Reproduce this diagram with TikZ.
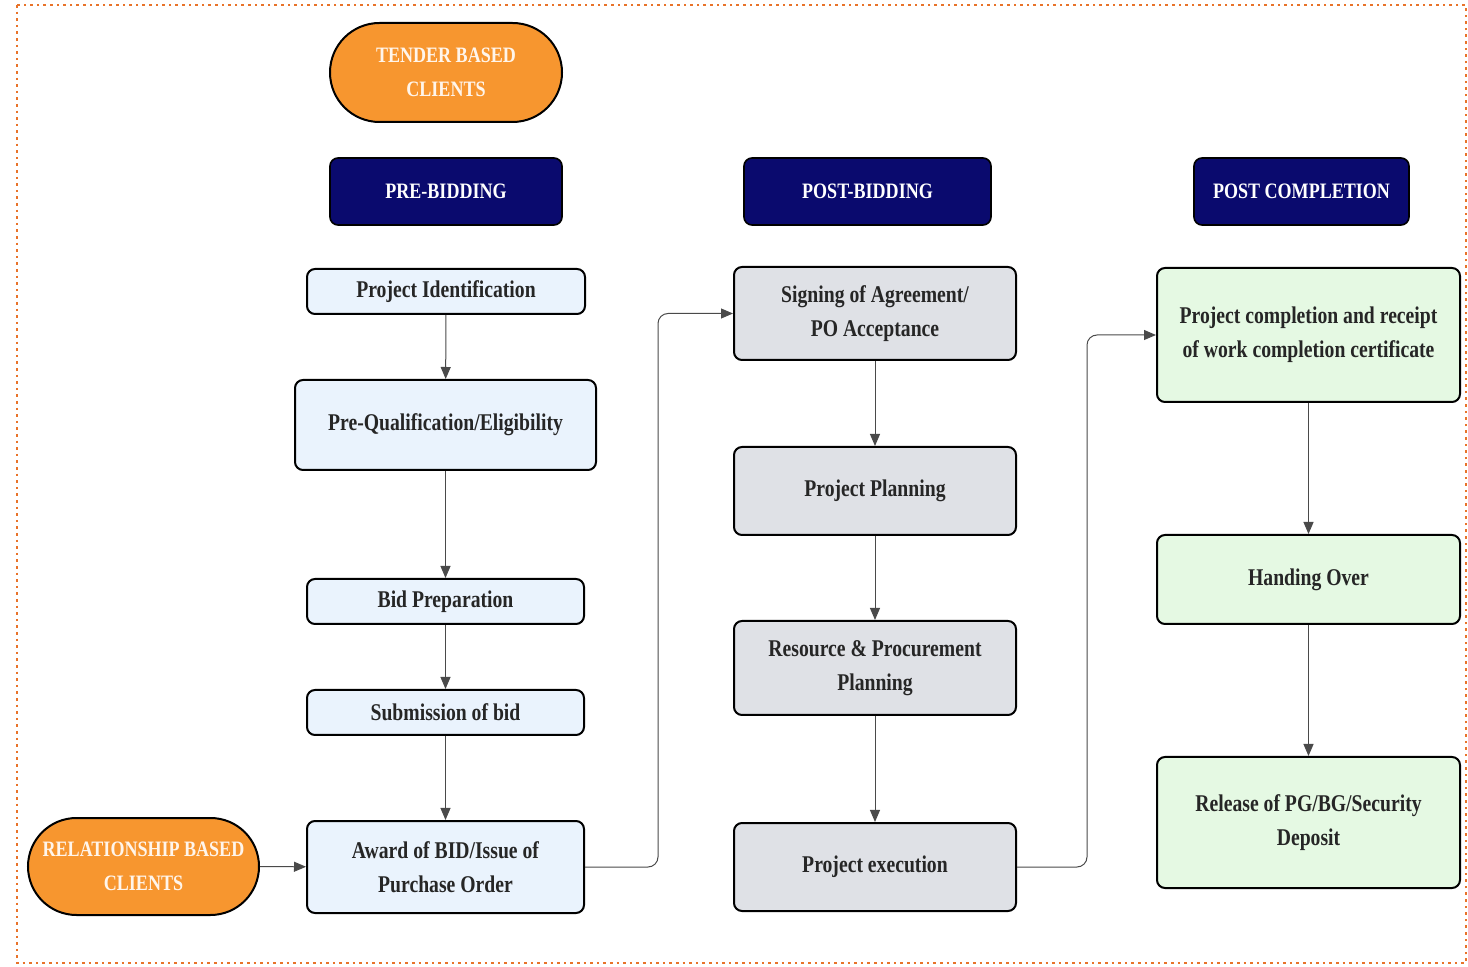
\documentclass[tikz,border=0pt]{standalone}
\usepackage{fontspec}
\setmainfont{Liberation Serif}[FakeStretch=0.82]
\usetikzlibrary{
    arrows.meta,
    positioning,
    shapes.misc
}
\definecolor{client orange}{HTML}{F7962F}
\definecolor{head navy}{HTML}{0A0A6E}
\definecolor{pre blue}{HTML}{EAF3FD}
\definecolor{post grey}{HTML}{DFE1E6}
\definecolor{done green}{HTML}{E5F9E3}
\definecolor{frame orange}{HTML}{E8732A}
\definecolor{link grey}{HTML}{4A4A4A}
\tikzset{
    % Boxes
    box text/.style={font=\bfseries\fontsize{12}{17}\selectfont,align=center,text=black!85},
    stage box/.style={box text,draw=black,line width=1pt,rounded corners=4pt,inner sep=0pt},
    pre box/.style={stage box,fill=pre blue},
    post box/.style={stage box,fill=post grey},
    done box/.style={stage box,fill=done green},
    head box/.style={draw=black,line width=0.8pt,fill=head navy,rounded corners=4pt,
        text=white,font=\bfseries\fontsize{11}{17}\selectfont,align=center,
        minimum height=33.5pt,inner sep=0pt},
    client box/.style={rounded rectangle,draw=black,line width=1pt,fill=client orange,
        text=white!92!orange,font=\bfseries\fontsize{11}{17}\selectfont,align=center,inner sep=0pt},
    %
    % Arrows
    arrow tip/.tip={Triangle[length=6pt,width=5pt]},
    arr/.style={->,>={arrow tip},draw=link grey,line width=0.5pt},
    elbow/.style={arr,rounded corners=5pt},
}

\begin{document}
\begin{tikzpicture}[x=0.5pt,y=-0.5pt]
    \useasboundingbox (0,0) rectangle (1468,967);
    \draw[frame orange,line width=1.3pt,dotted] (17,5) rectangle (1466,963);

    % clients and headings
    \node[client box,minimum width=116pt,minimum height=49.5pt] (tender) at (446,72.5) {TENDER BASED\\CLIENTS};
    \node[client box,minimum width=115.5pt,minimum height=48.5pt] (relation) at (143.5,866.5) {RELATIONSHIP BASED\\CLIENTS};
    \node[head box,minimum width=116pt] (prebid head) at (446,191.5) {PRE-BIDDING};
    \node[head box,minimum width=123.5pt] (postbid head) at (867.5,191.5) {POST-BIDDING};
    \node[head box,minimum width=107.5pt] (postcomp head) at (1301.5,191.5) {POST COMPLETION};

    % pre-bidding
    \node[pre box,minimum width=139pt,minimum height=22.5pt] (identify) at (446,291.5) {Project Identification};
    \node[pre box,minimum width=150.5pt,minimum height=45pt] (qualify) at (445.5,425) {Pre-Qualification/Eligibility};
    \node[pre box,minimum width=138.5pt,minimum height=22.5pt] (prepare) at (445.5,601.5) {Bid Preparation};
    \node[pre box,minimum width=138.5pt,minimum height=22.5pt] (submit) at (445.5,712.5) {Submission of bid};
    \node[pre box,minimum width=138.5pt,minimum height=46pt] (award) at (445.5,867) {Award of BID/Issue of\\Purchase Order};

    % post-bidding
    \node[post box,minimum width=141pt,minimum height=46.5pt] (signing) at (875,313.5) {Signing of Agreement/\\PO Acceptance};
    \node[post box,minimum width=141pt,minimum height=44pt] (planning) at (875,491) {Project Planning};
    \node[post box,minimum width=141pt,minimum height=47pt] (resource) at (875,668) {Resource \& Procurement\\Planning};
    \node[post box,minimum width=141pt,minimum height=44pt] (execution) at (875,867) {Project execution};

    % post completion
    \node[done box,minimum width=151.5pt,minimum height=67pt] (completion) at (1308.5,335) {Project completion and receipt\\of work completion certificate};
    \node[done box,minimum width=151.5pt,minimum height=44.5pt] (handing) at (1308.5,579.5) {Handing Over};
    \node[done box,minimum width=151.5pt,minimum height=65.5pt] (release) at (1308.5,822.5) {Release of PG/BG/Security\\Deposit};

    \coordinate (bend award) at (658,600);
    \coordinate (bend exec) at (1087,600);

    \draw[arr] (identify) -- (qualify);
    \draw[arr] (qualify) -- (prepare);
    \draw[arr] (prepare) -- (submit);
    \draw[arr] (submit) -- (award);
    \draw[arr] (relation) -- (award);
    \draw[elbow] (award.east) -- (award.east -| bend award) |- (signing.west);
    \draw[arr] (signing) -- (planning);
    \draw[arr] (planning) -- (resource);
    \draw[arr] (resource) -- (execution);
    \draw[elbow] (execution.east) -- (execution.east -| bend exec) |- (completion.west);
    \draw[arr] (completion) -- (handing);
    \draw[arr] (handing) -- (release);
\end{tikzpicture}
\end{document}
